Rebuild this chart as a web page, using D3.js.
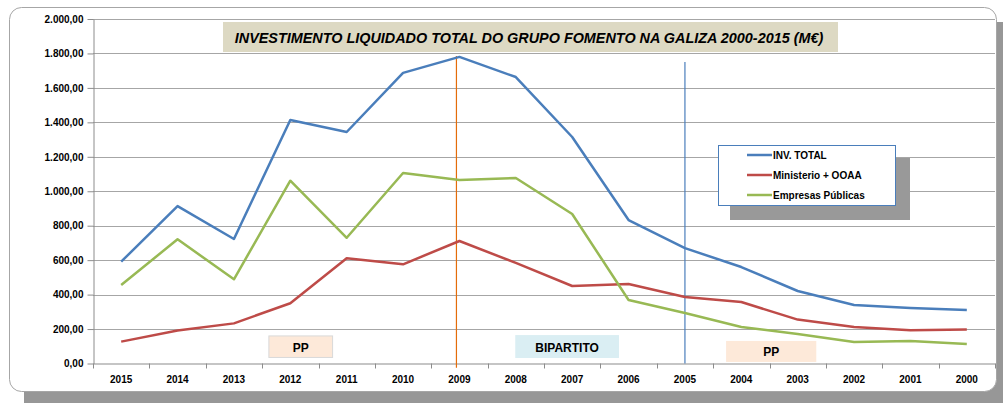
<!DOCTYPE html>
<html>
<head>
<meta charset="utf-8">
<script src="https://cdn.jsdelivr.net/npm/d3@7"></script>
<style>
  body { margin: 0; background: #fff; }
  text { font-family: "Liberation Sans", Arial, sans-serif; }
</style>
</head>
<body>
<div id="chart"></div>
<script>
// data (M€)
const years = ["2015","2014","2013","2012","2011","2010","2009","2008","2007","2006","2005","2004","2003","2002","2001","2000"];
const invTotal   = [591, 914, 723, 1414, 1344, 1687, 1780, 1663, 1315, 833, 670, 560, 421, 340, 322, 310];
const ministerio = [127, 191, 233, 350, 611, 576, 711, 584, 450, 462, 386, 357, 255, 212, 193, 197];
const empresas   = [456, 721, 489, 1061, 730, 1106, 1065, 1077, 868, 369, 293, 212, 171, 125, 130, 113];
const yTicks = [0, 200, 400, 600, 800, 1000, 1200, 1400, 1600, 1800, 2000];
const seriesNames = ["INV. TOTAL", "Ministerio + OOAA", "Empresas Públicas"];
const seriesColors = ["#4a7ebb", "#be4b48", "#98b954"];
const titleText = "INVESTIMENTO LIQUIDADO TOTAL DO GRUPO FOMENTO NA GALIZA 2000-2015 (M€)";

// period boxes: label, starting category, offsets in bands, value top/bottom
const periods = [
  { label: "PP", from: "2012", x0: 0.12, x1: 1.25, v0: 160, v1: 35, fill: "#fde9d9" },
  { label: "BIPARTITO", from: "2008", x0: 0.49, x1: 2.33, v0: 165, v1: 32, fill: "#daeef3" },
  { label: "PP", from: "2004", x0: 0.23, x1: 1.83, v0: 131, v1: 9, fill: "#fde9d9" }
];
// vertical markers
const markers = [
  { year: "2009", top: 1785, bottom: -25, color: "#e46c0a" },
  { year: "2005", top: 1750, bottom: 0, color: "#4a7ebb" }
];

const W = 1003, H = 403;

const svg = d3.select("#chart").append("svg")
  .attr("width", W).attr("height", H);

// outer frame shadow + frame
svg.append("rect").attr("x", 24).attr("y", 22).attr("width", W - 24).attr("height", H - 22)
  .attr("fill", "#979797");
svg.append("rect").attr("x", 9.5).attr("y", 7.5).attr("width", 987).attr("height", 384)
  .attr("rx", 12).attr("fill", "#fff").attr("stroke", "#a6a6a6").attr("stroke-width", 1);

const x = d3.scaleBand().domain(years).range([93, 995]).paddingInner(0).paddingOuter(0);
const y = d3.scaleLinear().domain([0, 2000]).range([363.5, 19]);

const loc = d3.formatLocale({ decimal: ",", thousands: ".", grouping: [3], currency: ["", ""] });
const fmt = loc.format(",.2f");

// gridlines
svg.append("g").selectAll("line").data(yTicks.slice(1)).join("line")
  .attr("x1", 93).attr("x2", 995)
  .attr("y1", d => Math.round(y(d)) + 0.5).attr("y2", d => Math.round(y(d)) + 0.5)
  .attr("stroke", "#a6a6a6").attr("stroke-width", 1.2);

// y axis
const yAxis = svg.append("g").attr("transform", "translate(93.5,0)")
  .call(d3.axisLeft(y).tickValues(yTicks).tickFormat(fmt).tickSize(6).tickSizeOuter(0));
yAxis.select(".domain").attr("stroke", "#8c8c8c");
yAxis.selectAll(".tick line").attr("stroke", "#8c8c8c");
yAxis.selectAll(".tick text").attr("x", -10)
  .style("font-size", "10px").style("font-weight", "bold").attr("fill", "#000");

// x axis
const xAxis = svg.append("g").attr("transform", `translate(0,${y(0)})`)
  .call(d3.axisBottom(x).tickSize(0).tickPadding(12));
xAxis.select(".domain").attr("stroke", "#8c8c8c").attr("stroke-width", 1.2);
xAxis.selectAll(".tick text")
  .style("font-size", "10px").style("font-weight", "bold").attr("fill", "#000");
// category boundary ticks
const bounds = years.map(d => x(d)).concat([x.range()[1]]);
svg.append("g").selectAll("line").data(bounds).join("line")
  .attr("x1", d => Math.round(d) + 0.5).attr("x2", d => Math.round(d) + 0.5)
  .attr("y1", y(0)).attr("y2", y(0) + 5)
  .attr("stroke", "#8c8c8c");

// title box
const tg = svg.append("g");
tg.append("rect").attr("x", 223).attr("y", 22).attr("width", 615).attr("height", 30)
  .attr("fill", "#ddd9c3");
tg.append("text").attr("x", 529).attr("y", 42.5).attr("text-anchor", "middle")
  .style("font-size", "14.4px").style("font-weight", "bold").style("font-style", "italic")
  .attr("fill", "#000").text(titleText);

// period boxes
const pg = svg.append("g").selectAll("g").data(periods).join("g");
pg.append("rect")
  .attr("x", d => x(d.from) + d.x0 * x.bandwidth())
  .attr("y", d => y(d.v0))
  .attr("width", d => (d.x1 - d.x0) * x.bandwidth())
  .attr("height", d => y(d.v1) - y(d.v0))
  .attr("fill", d => d.fill)
  .attr("stroke", d => d.label === "PP" && d.from === "2012" ? "#d9d9d9" : "none");
pg.append("text")
  .attr("x", d => x(d.from) + (d.x0 + d.x1) / 2 * x.bandwidth())
  .attr("y", d => (y(d.v0) + y(d.v1)) / 2 + 5)
  .attr("text-anchor", "middle")
  .style("font-size", "12px").style("font-weight", "bold").attr("fill", "#000")
  .text(d => d.label);

// vertical markers
svg.append("g").selectAll("line").data(markers).join("line")
  .attr("x1", (d, i) => x(d.year) + x.bandwidth() / 2 - (i === 0 ? 3 : 0))
  .attr("x2", (d, i) => x(d.year) + x.bandwidth() / 2 - (i === 0 ? 3 : 0))
  .attr("y1", d => y(d.top)).attr("y2", d => y(d.bottom))
  .attr("stroke", d => d.color).attr("stroke-width", 1.2);

// series lines
const allSeries = [invTotal, ministerio, empresas];
const line = d3.line().x((d, i) => x(years[i]) + x.bandwidth() / 2).y(d => y(d));
svg.append("g").selectAll("path").data(allSeries).join("path")
  .attr("d", line)
  .attr("fill", "none")
  .attr("stroke", (d, i) => seriesColors[i])
  .attr("stroke-width", 2.5)
  .attr("stroke-linejoin", "round");

// legend
const lg = svg.append("g");
lg.append("rect").attr("x", 730).attr("y", 158).attr("width", 180).attr("height", 62).attr("fill", "#999");
lg.append("rect").attr("x", 718.5).attr("y", 145.5).attr("width", 177).attr("height", 60)
  .attr("fill", "#fff").attr("stroke", "#4a7ebb").attr("stroke-width", 1);
const li = lg.selectAll("g.item").data(seriesNames).join("g").attr("class", "item")
  .attr("transform", (d, i) => `translate(0,${155 + i * 20})`);
li.append("line").attr("x1", 747).attr("x2", 772).attr("y1", 0).attr("y2", 0)
  .attr("stroke", (d, i) => seriesColors[i]).attr("stroke-width", 2.5);
li.append("text").attr("x", 773).attr("y", 4)
  .style("font-size", "10px").style("font-weight", "bold").attr("fill", "#000")
  .text(d => d);
</script>
</body>
</html>
